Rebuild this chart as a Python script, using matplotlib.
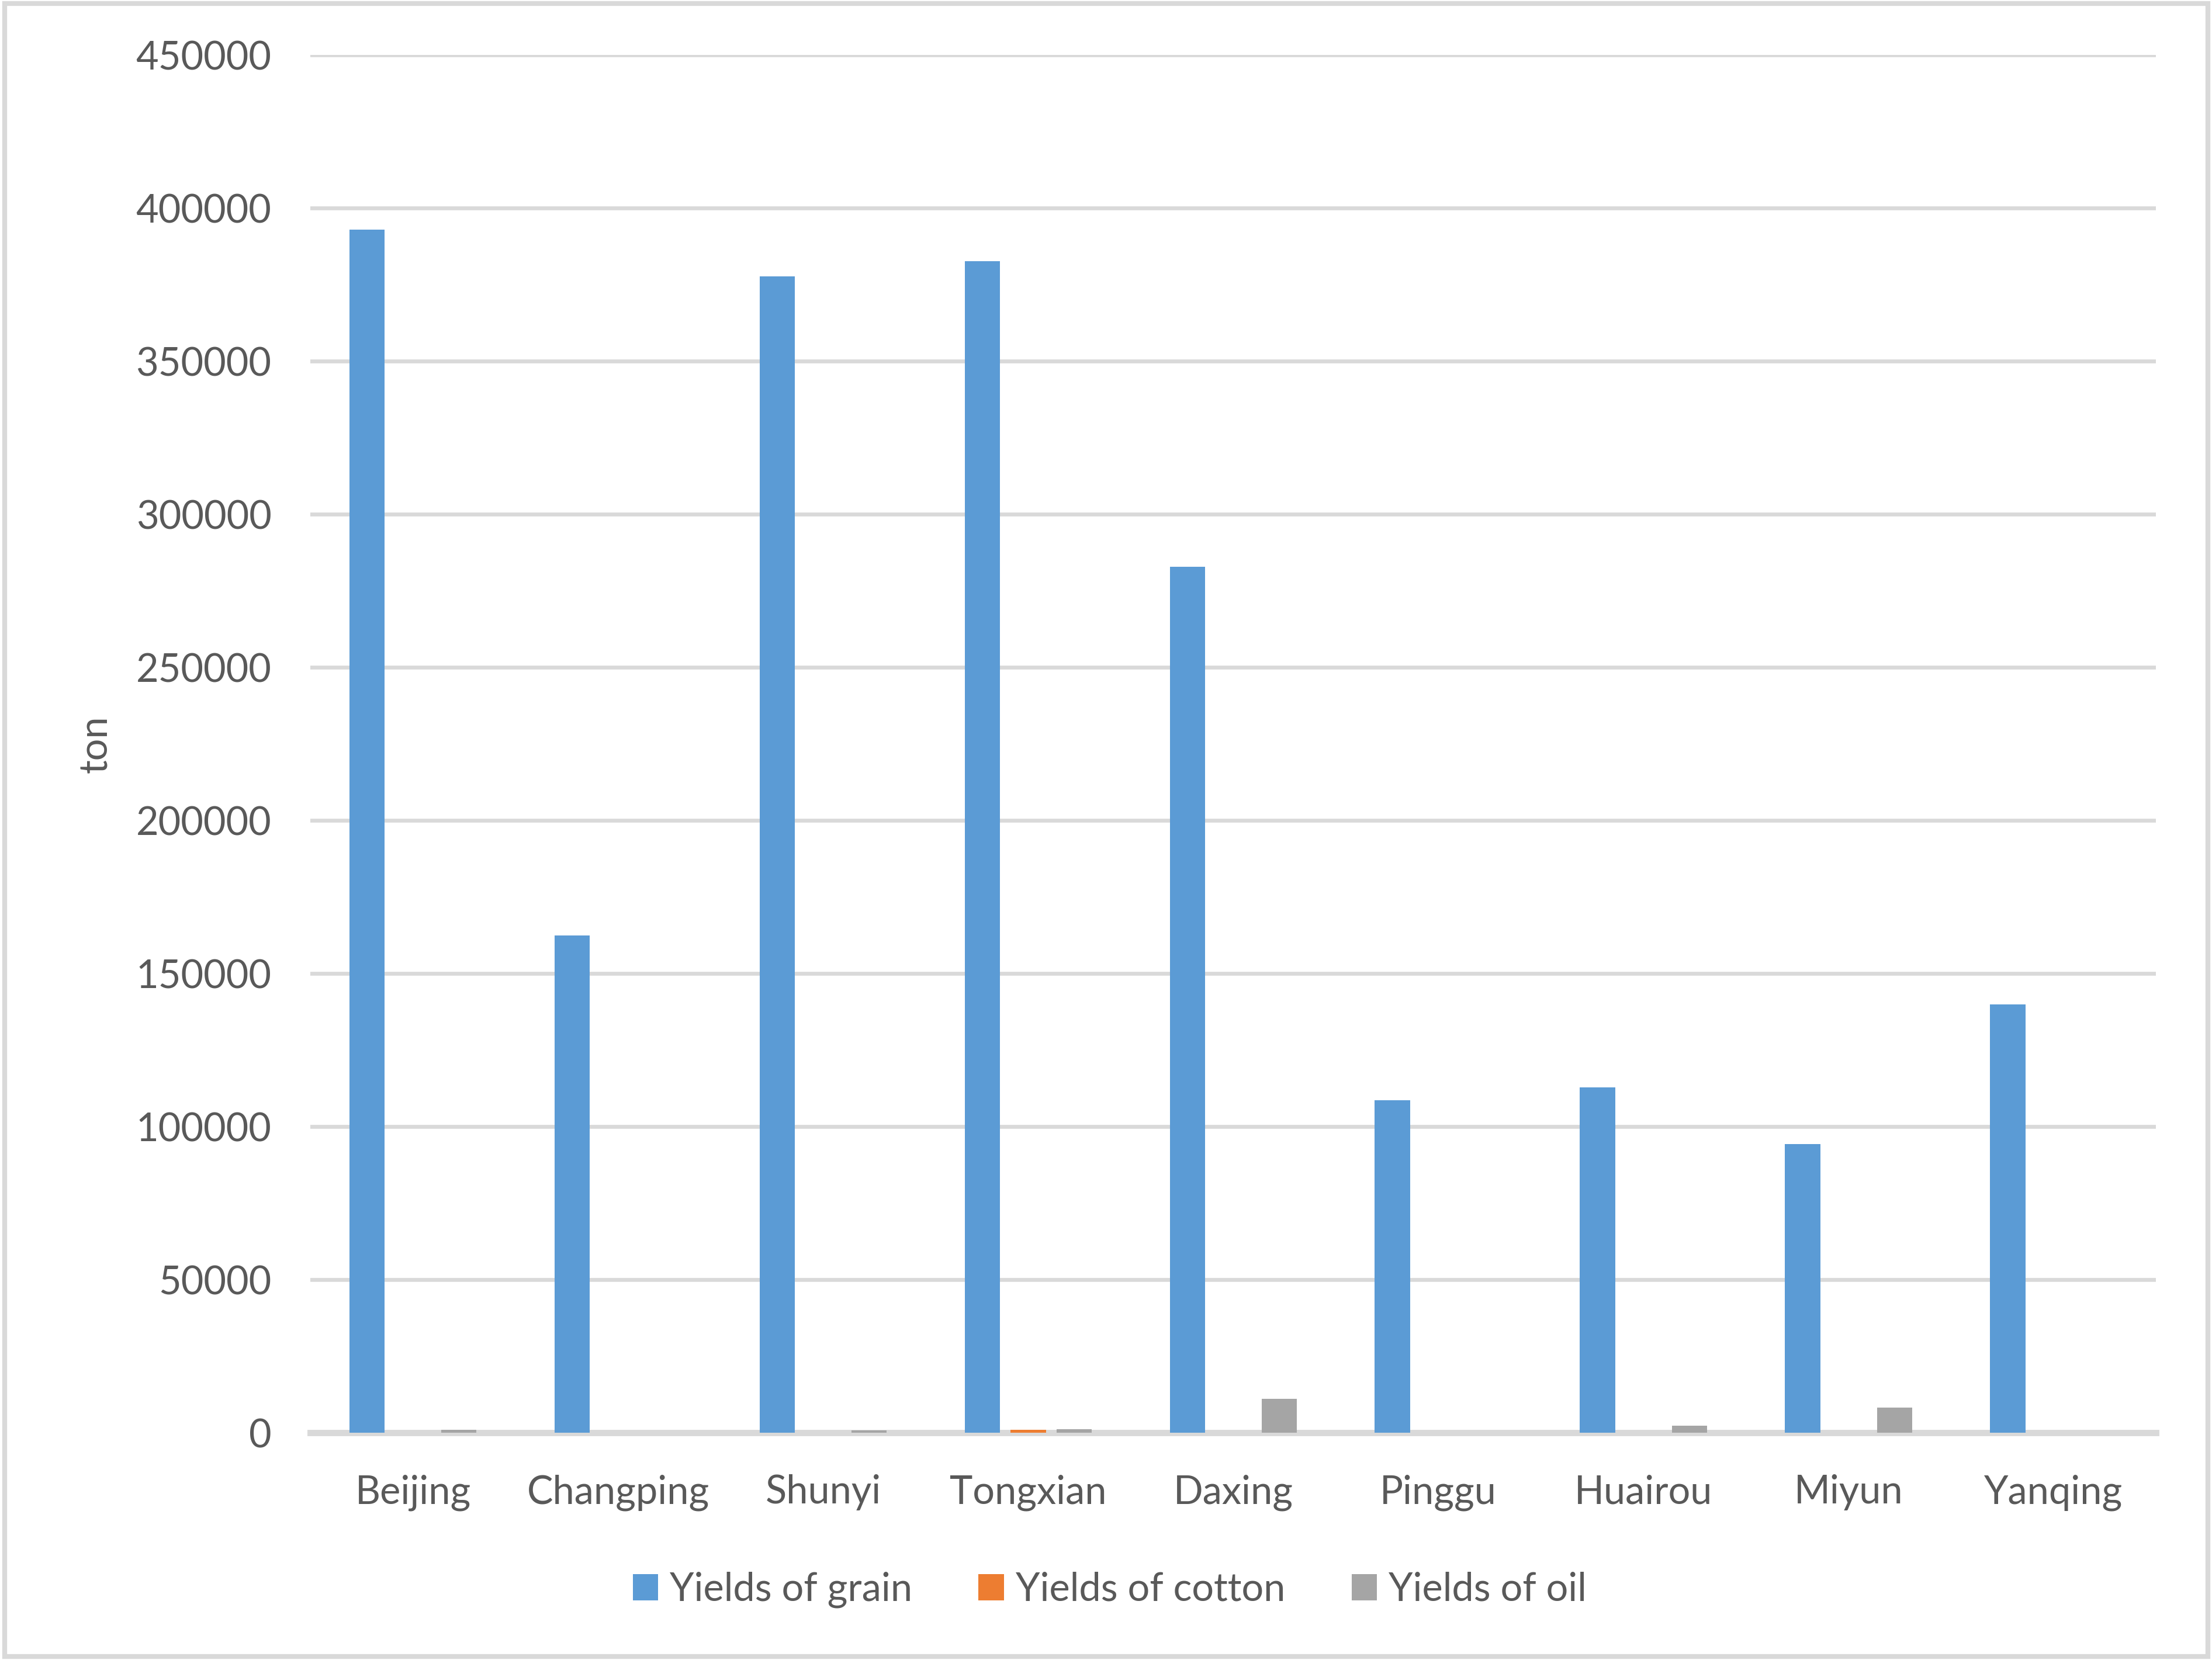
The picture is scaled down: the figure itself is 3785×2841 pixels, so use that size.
import matplotlib
matplotlib.use("Agg")
import matplotlib.pyplot as plt
import numpy as np
from matplotlib.patches import Rectangle

# data (ton)
districts = ["Beijing", "Changping", "Shunyi", "Tongxian", "Daxing",
             "Pinggu", "Huairou", "Miyun", "Yanqing"]
grain = [393000, 162500, 377700, 382700, 282800, 108700, 112800, 94400, 140000]
cotton = [0, 0, 0, 1000, 0, 0, 0, 0, 0]
oil = [1000, 0, 800, 1200, 11200, 0, 2300, 8300, 0]

series_names = ["Yields of grain", "Yields of cotton", "Yields of oil"]
colors = ["#5b9bd5", "#ed7d31", "#a5a5a5"]
text_color = "#595959"
grid_color = "#d9d9d9"

plt.rcParams["font.family"] = ["Lato", "DejaVu Sans"]

fig = plt.figure(figsize=(12.62, 9.47), dpi=300)
ax = fig.add_axes([0.1403, 0.1368, 0.8342, 0.8301])

x = np.arange(len(districts))
width = 0.172
offset = 0.224
for i, (vals, name, col) in enumerate(zip([grain, cotton, oil], series_names, colors)):
    ax.bar(x + (i - 1) * offset, vals, width=width, color=col, label=name, zorder=3)

ax.set_xlim(-0.5, len(districts) - 0.5)
ax.set_ylim(0, 450000)
ax.set_yticks(np.arange(0, 450001, 50000))
ax.set_xticks(x)
ax.set_xticklabels(districts)
ax.yaxis.grid(True, color=grid_color, linewidth=1.6, zorder=0)
ax.set_axisbelow(True)

for side in ["top", "right", "left"]:
    ax.spines[side].set_visible(False)
ax.spines["bottom"].set_color(grid_color)
ax.spines["bottom"].set_linewidth(2.6)
ax.spines["bottom"].set_zorder(2)

ax.tick_params(axis="both", length=0, labelsize=16, colors=text_color)
ax.tick_params(axis="y", pad=16)
ax.tick_params(axis="x", pad=17)

ax.set_ylabel("ton", fontsize=16, color=text_color, labelpad=9)

leg = ax.legend(loc="center", bbox_to_anchor=(0.433, -0.114), ncol=3, frameon=False,
                fontsize=16, handlelength=0.65, handleheight=0.65, handletextpad=0.3,
                columnspacing=1.7)
for t in leg.get_texts():
    t.set_color(text_color)

# thin light frame around the whole chart
fig.add_artist(Rectangle((0.002, 0.002), 0.996, 0.996, transform=fig.transFigure,
                         fill=False, edgecolor=grid_color, linewidth=2))

fig.savefig("out.png", dpi=300)
